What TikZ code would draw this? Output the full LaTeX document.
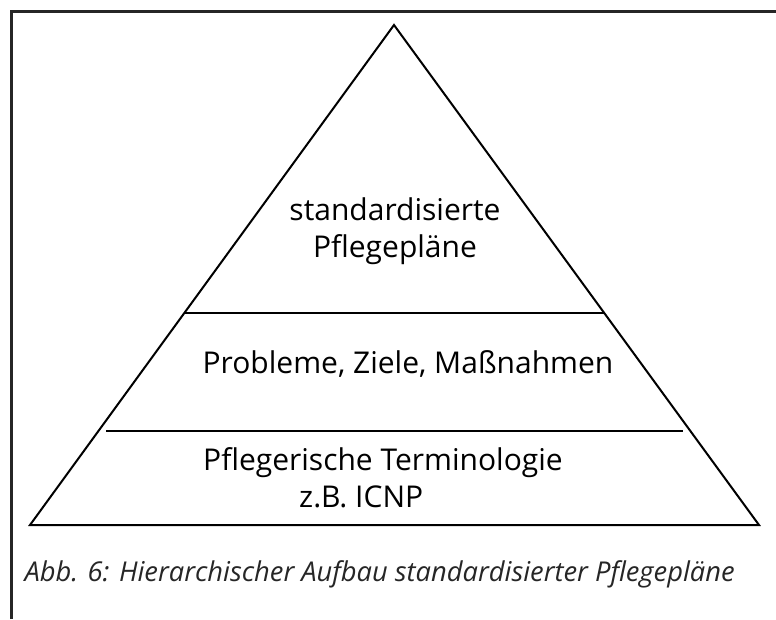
\documentclass[tikz,border=0pt]{standalone}
\usepackage{fontspec}
\setmainfont{Open Sans}
\usetikzlibrary{calc}

\tikzset{
  layer/.style={font=\fontsize{30}{37}\selectfont, align=center, anchor=base},
  caption/.style={font=\fontsize{27.3}{32}\selectfont\itshape, anchor=base west, text=black!85}
}

\begin{document}
\begin{tikzpicture}[x=1pt, y=-1pt, line join=miter]
  \useasboundingbox (0,0) rectangle (776,619);

  % frame
  \draw[line width=3pt, black!85] (11,619) -- (11,11) -- (776,11);

  \coordinate (apex) at (394,25);
  \coordinate (bl) at (30,525);
  \coordinate (br) at (759,525);

  \draw[line width=2pt] (apex) -- (br) -- (bl) -- cycle;

  % layer borders
  \draw[line width=2pt] ($(apex)!0.576!(bl)$) -- ($(apex)!0.576!(br)$);
  \draw[line width=2pt] ($(apex)!0.812!(bl)+(8,0)$) -- ($(apex)!0.812!(br)-(7,0)$);

  \node[layer] (top) at (395,257) {standardisierte\\Pflegepläne};
  \node[layer] (mid) at (408,373) {Probleme, Ziele, Maßnahmen};
  \node[layer, align=left] (bot) at (383,507) {Pflegerische Terminologie\\\hspace*{96pt}z.B. ICNP};

  \node[caption] (cap) at (21,581) {Abb. 6: Hierarchischer Aufbau standardisierter Pflegepläne};
\end{tikzpicture}
\end{document}
